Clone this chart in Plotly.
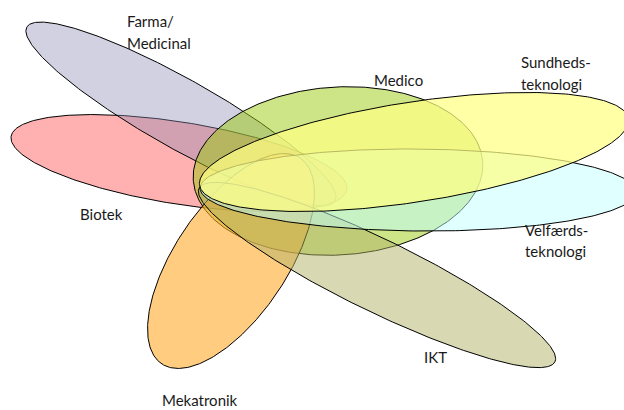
import numpy as np
import plotly.graph_objects as go

# Sets (drawing order, bottom to top)
sets = ["Biotek", "Farma/Medicinal", "Medico", "Mekatronik", "IKT", "Velfærdsteknologi", "Sundhedsteknologi"]
center_x = [179, 181, 338, 231, 377, 418, 414]
center_y = [163, 114, 171, 261, 275, 190, 152]
semi_major = [170, 177, 145, 124, 198, 218, 217]
semi_minor = [41, 34.5, 84, 56, 36, 41, 50]
tilt_deg = [9, 29.4, -3.5, -56, 26, 0.5, -8.8]

fills = [
    "rgba(255,97,97,0.5)",
    "rgba(140,140,180,0.4)",
    "rgba(155,201,15,0.5)",
    "rgba(255,170,43,0.6)",
    "rgba(177,177,101,0.5)",
    "rgba(193,255,255,0.5)",
    "rgba(255,255,131,0.72)",
]

# Labels
label_text = ["Farma/", "Medicinal", "Medico", "Sundheds-", "teknologi", "Biotek",
              "Velfærds-", "teknologi", "IKT", "Mekatronik"]
label_x = [125, 125, 372, 519, 519, 78, 523, 523, 422, 160]
label_y = [21, 43, 80, 62, 84, 214, 230, 251, 357, 400]

fig = go.Figure()
t = np.linspace(0, 2 * np.pi, 361)
for name, cx, cy, a, b, ang, fc in zip(sets, center_x, center_y, semi_major, semi_minor, tilt_deg, fills):
    th = np.deg2rad(ang)
    u = a * np.cos(t)
    v = b * np.sin(t)
    xs = cx + u * np.cos(th) - v * np.sin(th)
    ys = cy + u * np.sin(th) + v * np.cos(th)
    fig.add_trace(go.Scatter(x=xs, y=ys, mode="lines", fill="toself", fillcolor=fc,
                             line=dict(color="black", width=1), name=name,
                             hoverinfo="name", showlegend=False))

for txt, x, y in zip(label_text, label_x, label_y):
    fig.add_annotation(x=x, y=y, text=txt, showarrow=False, xanchor="left", yanchor="middle",
                       font=dict(family="Lato", size=15, color="#1a1a1a"))

fig.update_layout(
    width=624, height=410,
    margin=dict(l=0, r=0, t=0, b=0),
    paper_bgcolor="white", plot_bgcolor="white",
    xaxis=dict(range=[0, 624], visible=False, fixedrange=True),
    yaxis=dict(range=[410, 0], visible=False, fixedrange=True),
)
fig.write_html("out.html", config={"displayModeBar": False},
               post_script="document.body.style.margin='0';document.body.style.overflow='hidden';")
